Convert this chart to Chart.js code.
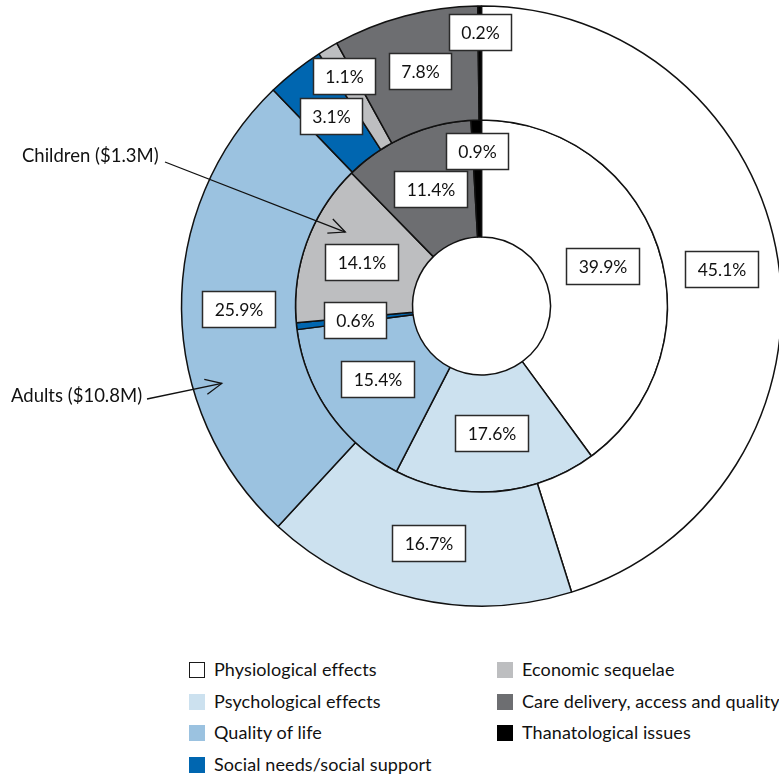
<!DOCTYPE html>
<html>
<head>
<meta charset="utf-8">
<script src="https://cdn.jsdelivr.net/npm/chart.js@4.4.1/dist/chart.umd.min.js"></script>
<style>
  html, body { margin: 0; padding: 0; background: #fff; overflow: hidden; width: 779px; height: 778px; }
  #wrap { position: absolute; left: 0; top: 0; width: 963px; height: 612px; }
  .leg { position: absolute; font-family: Lato, "Open Sans", sans-serif; font-size: 18px; letter-spacing: 0.1px; color: #111; white-space: nowrap; line-height: 18px; }
  .sw { position: absolute; width: 16px; height: 16px; box-sizing: border-box; }
</style>
</head>
<body>
<div id="wrap"><canvas id="c" width="963" height="612"></canvas></div>
<div id="legend"></div>
<script>
// ---- data ----
const categories = [
  "Physiological effects",
  "Psychological effects",
  "Quality of life",
  "Social needs/social support",
  "Economic sequelae",
  "Care delivery, access and quality",
  "Thanatological issues"
];
const adultsValues   = [45.1, 16.7, 25.9, 3.1, 1.1, 7.8, 0.2];
const childrenValues = [39.9, 17.6, 15.4, 0.6, 14.1, 11.4, 0.9];
const seriesNames = ["Adults ($10.8M)", "Children ($1.3M)"];

// ---- styles ----
const colors = ["#ffffff", "#cce1ef", "#9bc2e0", "#0066b0", "#bdbec0", "#6d6e71", "#000000"];
const legendBorders = ["#1a1a1a", null, null, null, null, null, null];
// radial shift (px) of a few labels, outer ring then inner ring
const labelShiftAdults   = [0, 0, 0, 0, 25, 0, 31];
const labelShiftChildren = [0, 0, 0, 0, 0, 0, 28];

const labelPlugin = {
  id: 'boxLabels',
  afterDatasetsDraw(chart) {
    const ctx = chart.ctx;
    const shifts = [labelShiftAdults, labelShiftChildren];
    ctx.save();
    ctx.font = '17.5px Lato, "Open Sans", sans-serif';
    ctx.textAlign = 'center';
    ctx.textBaseline = 'middle';
    chart.data.datasets.forEach((ds, di) => {
      const meta = chart.getDatasetMeta(di);
      meta.data.forEach((arc, j) => {
        const p = arc.getProps(['x', 'y', 'startAngle', 'endAngle', 'innerRadius', 'outerRadius'], true);
        const mid = (p.startAngle + p.endAngle) / 2;
        const r = (p.innerRadius + p.outerRadius) / 2 + shifts[di][j];
        const cx = p.x + Math.cos(mid) * r;
        const cy = p.y + Math.sin(mid) * r;
        const txt = ds.data[j].toFixed(1) + '%';
        const tw = ctx.measureText(txt).width;
        const w = Math.round(tw + 24), h = 36;
        const x0 = Math.round(cx - w / 2) + 0.5, y0 = Math.round(cy - h / 2) + 0.5;
        ctx.fillStyle = '#ffffff';
        ctx.fillRect(x0, y0, w, h);
        ctx.lineWidth = 1.5;
        ctx.strokeStyle = '#2a2a2a';
        ctx.strokeRect(x0, y0, w, h);
        ctx.fillStyle = '#111';
        ctx.fillText(txt, x0 + w / 2, y0 + h / 2 + 1);
      });
    });

    // annotations with arrows: text anchor + arrow tip in polar coords around the chart centre
    const arc0 = chart.getDatasetMeta(0).data[0];
    const c = arc0.getProps(['x', 'y'], true);
    const notes = [
      { text: seriesNames[1], tx: 22, ty: 156, sx: 165, sy: 162, angDeg: 298.5, rad: 155 },
      { text: seriesNames[0], tx: 11, ty: 396, sx: 147, sy: 399, angDeg: 253.4, rad: 271 }
    ];
    ctx.font = '18.5px Lato, "Open Sans", sans-serif';
    ctx.textAlign = 'left';
    ctx.textBaseline = 'middle';
    ctx.strokeStyle = '#111';
    ctx.lineWidth = 1.3;
    notes.forEach(n => {
      ctx.fillStyle = '#111';
      ctx.fillText(n.text, n.tx, n.ty);
      const a = n.angDeg * Math.PI / 180;
      const ex = c.x + Math.sin(a) * n.rad;
      const ey = c.y - Math.cos(a) * n.rad;
      ctx.beginPath();
      ctx.moveTo(n.sx, n.sy);
      ctx.lineTo(ex, ey);
      ctx.stroke();
      const dir = Math.atan2(ey - n.sy, ex - n.sx);
      const L = 18, spread = 25 * Math.PI / 180;
      ctx.beginPath();
      ctx.moveTo(ex + Math.cos(dir + Math.PI - spread) * L, ey + Math.sin(dir + Math.PI - spread) * L);
      ctx.lineTo(ex, ey);
      ctx.lineTo(ex + Math.cos(dir + Math.PI + spread) * L, ey + Math.sin(dir + Math.PI + spread) * L);
      ctx.stroke();
    });
    ctx.restore();
  }
};

new Chart(document.getElementById('c'), {
  type: 'doughnut',
  data: {
    labels: categories,
    datasets: [
      { label: seriesNames[0], data: adultsValues, backgroundColor: colors, borderColor: '#111', borderWidth: 1.5, weight: 114 },
      { label: seriesNames[1], data: childrenValues, backgroundColor: colors, borderColor: '#111', borderWidth: 1.5, weight: 117 }
    ]
  },
  options: {
    responsive: false,
    animation: false,
    devicePixelRatio: 1,
    radius: 300,
    cutout: '23%',
    layout: { padding: 0 },
    plugins: { legend: { display: false }, tooltip: { enabled: false } },
    events: []
  },
  plugins: [labelPlugin]
});

// ---- legend (HTML) ----
const legend = document.getElementById('legend');
const legendCols = [189, 497];
const legendRows = [670, 702, 733, 765];
categories.forEach((name, i) => {
  const col = i < 4 ? 0 : 1;
  const row = i < 4 ? i : i - 4;
  const sw = document.createElement('div');
  sw.className = 'sw';
  sw.style.left = legendCols[col] + 'px';
  sw.style.top = (legendRows[row] - 8) + 'px';
  sw.style.background = colors[i];
  if (legendBorders[i]) sw.style.border = '1.5px solid ' + legendBorders[i];
  legend.appendChild(sw);
  const t = document.createElement('div');
  t.className = 'leg';
  t.textContent = name;
  t.style.left = (legendCols[col] + 25) + 'px';
  t.style.top = (legendRows[row] - 10) + 'px';
  legend.appendChild(t);
});
</script>
</body>
</html>
